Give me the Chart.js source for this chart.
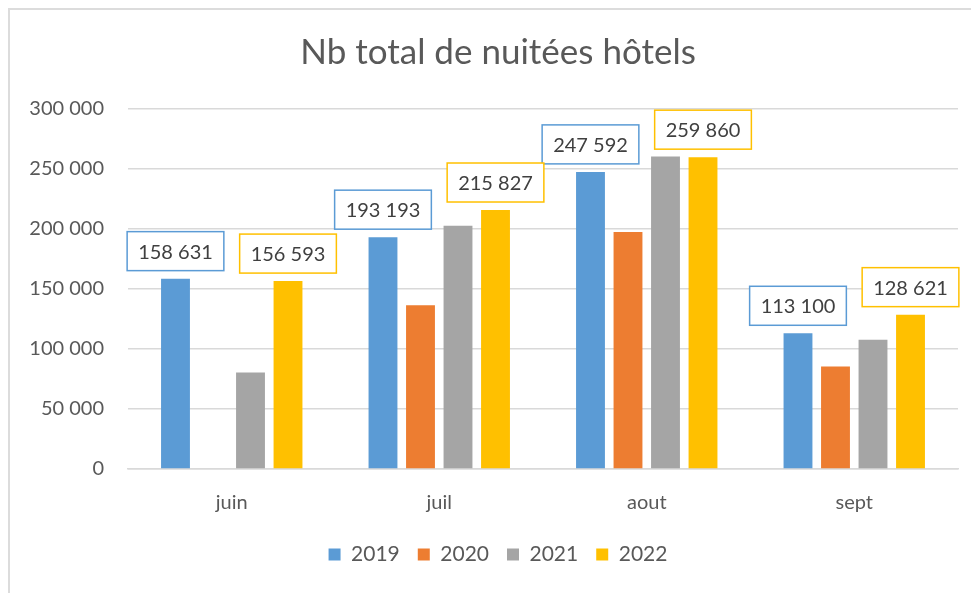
<!DOCTYPE html>
<html lang="fr">
<head>
<meta charset="utf-8">
<title>Nb total de nuitées hôtels</title>
<script src="https://cdn.jsdelivr.net/npm/chart.js@4.4.1/dist/chart.umd.min.js"></script>
<style>
    html, body { margin: 0; padding: 0; background: #fff; overflow: hidden; }
    #wrap { position: relative; width: 971px; height: 593px; }
    #frame {
        position: absolute; left: 8px; top: 8px; width: 1200px; height: 1200px;
        border-left: 2px solid #dcdcdc; border-top: 2px solid #dcdcdc;
        pointer-events: none;
    }
</style>
</head>
<body>
<div id="wrap">
    <canvas id="chart" width="971" height="593"></canvas>
    <div id="frame"></div>
</div>
<script>
// données
const mois = ['juin', 'juil', 'aout', 'sept'];
const annees = ['2019', '2020', '2021', '2022'];
const v2019 = [158631, 193193, 247592, 113100];
const v2020 = [null, 136500, 197500, 85500];
const v2021 = [80500, 202700, 260400, 107800];
const v2022 = [156593, 215827, 259860, 128621];
const couleurs = ['#5B9BD5', '#ED7D31', '#A5A5A5', '#FFC000'];
const avecEtiquette = [true, false, false, true]; // étiquettes encadrées sur 2019 et 2022

const FONT = 'Lato, "Noto Sans", sans-serif';
const fmt = (n) => String(Math.round(n)).replace(/\B(?=(\d{3})+(?!\d))/g, ' ');

// étiquettes de données encadrées au-dessus des barres
const boxedLabels = {
    id: 'boxedLabels',
    afterDatasetsDraw(chart) {
        const ctx = chart.ctx;
        ctx.save();
        ctx.font = '20px ' + FONT;
        ctx.textAlign = 'center';
        ctx.textBaseline = 'middle';
        chart.data.datasets.forEach((ds, i) => {
            if (!avecEtiquette[i]) return;
            const meta = chart.getDatasetMeta(i);
            meta.data.forEach((bar, j) => {
                const v = ds.data[j];
                if (v == null) return;
                const txt = fmt(v);
                const w = ctx.measureText(txt).width + 22;
                const h = 39;
                const x = bar.x - w / 2;
                const y = bar.y - 8 - h;
                ctx.fillStyle = '#fff';
                ctx.fillRect(x, y, w, h);
                ctx.strokeStyle = couleurs[i];
                ctx.lineWidth = 1.5;
                ctx.strokeRect(x, y, w, h);
                ctx.fillStyle = '#404040';
                ctx.fillText(txt, bar.x, y + h / 2 + 1);
            });
        });
        ctx.restore();
    }
};

const series = [v2019, v2020, v2021, v2022];

new Chart(document.getElementById('chart'), {
    type: 'bar',
    data: {
        labels: mois,
        datasets: series.map((d, i) => ({
            label: annees[i],
            data: d,
            backgroundColor: couleurs[i],
            borderWidth: 0,
            categoryPercentage: 0.723,
            barPercentage: 0.77
        }))
    },
    options: {
        responsive: false,
        animation: false,
        devicePixelRatio: 1,
        layout: { padding: { top: 15, left: 38, right: 13, bottom: 18 } },
        plugins: {
            title: {
                display: true,
                text: 'Nb total de nuitées hôtels',
                color: '#595959',
                font: { family: FONT, size: 35, weight: 'normal' },
                padding: { top: 17, bottom: 35 }
            },
            legend: {
                position: 'bottom',
                labels: {
                    color: '#595959',
                    font: { family: FONT, size: 21 },
                    boxWidth: 12,
                    boxHeight: 12,
                    padding: 18
                }
            },
            tooltip: { enabled: false }
        },
        scales: {
            x: {
                afterFit: (s) => { s.height = 57; },
                grid: { display: false, drawTicks: false },
                border: { color: '#d9d9d9', width: 1.5 },
                ticks: { color: '#595959', font: { family: FONT, size: 20 }, padding: 22 }
            },
            y: {
                min: 0,
                max: 300000,
                afterFit: (s) => {
                    s.width = 90;
                    s._computeLabelArea = () => undefined; // pas de découpe des libellés
                },
                grid: { color: '#d9d9d9', lineWidth: 1.5, drawTicks: false },
                border: { display: false },
                ticks: {
                    stepSize: 50000,
                    color: '#595959',
                    font: { family: FONT, size: 20 },
                    padding: 24,
                    callback: (v) => fmt(v)
                }
            }
        }
    },
    plugins: [boxedLabels]
});
</script>
</body>
</html>
